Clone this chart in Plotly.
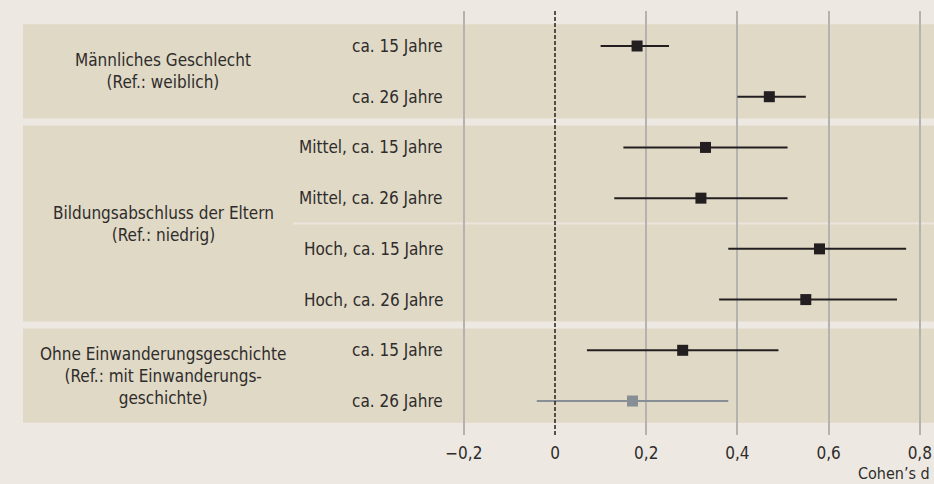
import plotly.graph_objects as go

# Effect sizes (Cohen's d) with confidence intervals
row_labels = [
    "ca. 15 Jahre", "ca. 26 Jahre",
    "Mittel, ca. 15 Jahre", "Mittel, ca. 26 Jahre",
    "Hoch, ca. 15 Jahre", "Hoch, ca. 26 Jahre",
    "ca. 15 Jahre", "ca. 26 Jahre",
]
cohens_d = [0.18, 0.47, 0.33, 0.32, 0.58, 0.55, 0.28, 0.17]
ci_low = [0.10, 0.40, 0.15, 0.13, 0.38, 0.36, 0.07, -0.04]
ci_high = [0.25, 0.55, 0.51, 0.51, 0.77, 0.75, 0.49, 0.38]
significant = [True, True, True, True, True, True, True, False]

group_labels = [
    "Männliches Geschlecht<br>(Ref.: weiblich)",
    "Bildungsabschluss der Eltern<br>(Ref.: niedrig)",
    "Ohne Einwanderungsgeschichte<br>(Ref.: mit Einwanderungs-<br>geschichte)",
]
group_rows = [(0, 1), (2, 5), (6, 7)]

x_ticks = [-0.2, 0, 0.2, 0.4, 0.6, 0.8]
x_tick_text = ["\u22120,2", "0", "0,2", "0,4", "0,6", "0,8"]
x_title = "Cohen\u2019s d"

BG = "#ede9e2"
BAND = "#e0d9c6"
DARK = "#231f20"
GREY = "#878e95"
TEXT = "#2e2c2b"
FONT = "Liberation Sans Narrow, DejaVu Sans Condensed, Roboto, sans-serif"

W, H = 934, 484
M_T, M_B = 11, 49

fig = go.Figure()

for flag, color in [(True, DARK), (False, GREY)]:
    idx = [i for i, s in enumerate(significant) if s == flag]
    xs = [cohens_d[i] for i in idx]
    fig.add_trace(go.Scatter(
        x=xs,
        y=idx,
        mode="markers",
        marker=dict(symbol="square", size=11, color=color, line=dict(width=0)),
        error_x=dict(
            type="data",
            symmetric=False,
            array=[ci_high[i] - cohens_d[i] for i in idx],
            arrayminus=[cohens_d[i] - ci_low[i] for i in idx],
            color=color,
            thickness=2,
            width=0,
        ),
        showlegend=False,
        hoverinfo="skip",
    ))

shapes = []
# shaded group bands
for a, b in group_rows:
    shapes.append(dict(
        type="rect", xref="paper", yref="y",
        x0=23 / W, x1=1, y0=a - 0.43, y1=b + 0.43,
        fillcolor=BAND, line=dict(width=0), layer="below",
    ))
# thin separator between parental education levels
shapes.append(dict(
    type="line", xref="paper", yref="y",
    x0=293 / W, x1=1, y0=3.5, y1=3.5,
    line=dict(color="#ebe6db", width=2), layer="below",
))
# reference line at zero
shapes.append(dict(
    type="line", xref="x", yref="paper",
    x0=0, x1=0, y0=0, y1=1,
    line=dict(color=DARK, width=1.5, dash="4px,2px"), layer="above",
))

annotations = []
for i, lab in enumerate(row_labels):
    annotations.append(dict(
        x=445 / W, xref="paper", y=i, yref="y",
        text=lab, showarrow=False, xanchor="right", yanchor="middle",
        font=dict(family=FONT, size=17, color=TEXT),
    ))
for lab, (a, b) in zip(group_labels, group_rows):
    annotations.append(dict(
        x=163 / W, xref="paper", y=(a + b) / 2, yref="y",
        text=lab, showarrow=False, xanchor="center", yanchor="middle",
        align="center",
        font=dict(family=FONT, size=17, color=TEXT),
    ))
plot_h = H - M_T - M_B
annotations.append(dict(
    x=932 / W, xref="paper", y=-(473.5 - (H - M_B)) / plot_h, yref="paper",
    text=x_title, showarrow=False, xanchor="right", yanchor="middle",
    font=dict(family=FONT, size=16, color=TEXT),
))

x0 = (0 - 555) / 456
x1 = (W - 555) / 456

fig.update_layout(
    width=W, height=H,
    margin=dict(l=0, r=0, t=M_T, b=M_B),
    paper_bgcolor=BG, plot_bgcolor=BG,
    shapes=shapes, annotations=annotations,
    xaxis=dict(
        range=[x0, x1],
        tickvals=[v for v in x_ticks if v != 0],
        ticktext=[t for v, t in zip(x_ticks, x_tick_text) if v != 0],
        showgrid=True, gridcolor="#b5b3af", gridwidth=1.5,
        zeroline=False, showline=False,
        ticks="outside", ticklen=3, tickcolor="rgba(0,0,0,0)",
        tickfont=dict(family=FONT, size=17, color=TEXT),
    ),
    xaxis2=dict(
        overlaying="x", matches="x", side="bottom",
        tickvals=[0], ticktext=["0"], showgrid=False, zeroline=False,
        ticks="outside", ticklen=3, tickcolor="rgba(0,0,0,0)",
        tickfont=dict(family=FONT, size=17, color=TEXT),
    ),
    yaxis=dict(
        range=[7.67, -0.69], showgrid=False, zeroline=False,
        showticklabels=False, showline=False,
    ),
)
# invisible trace so the zero tick label axis is drawn
fig.add_trace(go.Scatter(x=[0], y=[0], xaxis="x2", mode="markers",
                         marker=dict(opacity=0), showlegend=False, hoverinfo="skip"))

fig.write_html("out.html")
